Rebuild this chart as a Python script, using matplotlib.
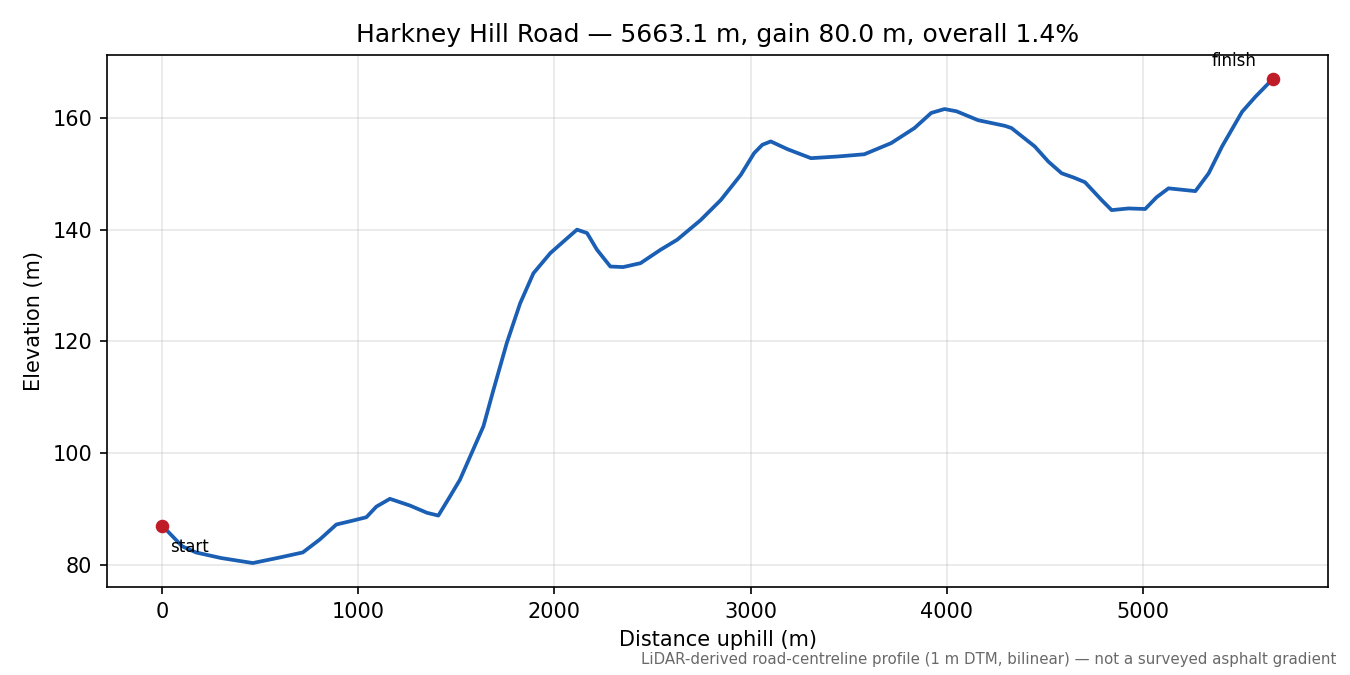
import numpy as np
import matplotlib
matplotlib.use("Agg")
import matplotlib.pyplot as plt

# profile (distance in m, elevation in m)
dist = [0, 102, 172, 300, 462, 600, 717, 803, 888, 960, 1041, 1092, 1161,
        1263, 1350, 1408, 1467, 1518, 1578, 1638, 1689, 1757, 1825, 1893,
        1979, 2050, 2115, 2166, 2217, 2285, 2350, 2439, 2541, 2626, 2745,
        2848, 2950, 3018, 3060, 3103, 3189, 3308, 3444, 3580, 3717, 3836,
        3921, 3989, 4050, 4160, 4296, 4330, 4449, 4518, 4586, 4650, 4705,
        4790, 4841, 4927, 5012, 5070, 5131, 5268, 5336, 5404, 5506, 5574,
        5663.1]
elev = [87.0, 83.3, 82.2, 81.2, 80.3, 81.3, 82.2, 84.5, 87.2, 87.8, 88.5,
        90.4, 91.8, 90.6, 89.3, 88.8, 92.2, 95.2, 100.0, 104.8, 111.3, 119.7,
        126.8, 132.2, 135.8, 138.0, 140.0, 139.4, 136.4, 133.4, 133.3, 134.0,
        136.4, 138.2, 141.7, 145.3, 149.8, 153.7, 155.2, 155.8, 154.4, 152.8,
        153.1, 153.5, 155.5, 158.2, 160.9, 161.6, 161.2, 159.6, 158.6, 158.2,
        154.9, 152.2, 150.1, 149.3, 148.5, 145.3, 143.5, 143.8, 143.7, 145.8,
        147.4, 146.9, 150.1, 154.9, 161.1, 163.8, 167.0]

name = "Harkney Hill Road"
length = dist[-1]
gain = elev[-1] - elev[0]
overall = gain / length * 100

fig, ax = plt.subplots(figsize=(9, 4.5), dpi=150)
fig.subplots_adjust(left=0.079, right=0.984, top=0.919, bottom=0.130)

ax.plot(dist, elev, color="#1a5fb4", lw=1.8)
ax.plot([dist[0], dist[-1]], [elev[0], elev[-1]], "o", color="#c01c28", ms=5.5, zorder=3)

ax.annotate("start", (dist[0], elev[0]), xytext=(4, -6), textcoords="offset points",
            ha="left", va="top", fontsize=8)
ax.annotate("finish", (dist[-1], elev[-1]), xytext=(-8, 4.5), textcoords="offset points",
            ha="right", va="bottom", fontsize=8)

ax.grid(True, alpha=0.3)
ax.set_xlabel("Distance uphill (m)")
ax.set_ylabel("Elevation (m)")
ax.set_title(f"{name} \u2014 {length:.1f} m, gain {gain:.1f} m, overall {overall:.1f}%", fontsize=12)

fig.text(0.99, 0.012, "LiDAR-derived road-centreline profile (1 m DTM, bilinear) \u2014 not a surveyed asphalt gradient",
         ha="right", va="bottom", fontsize=7.2, color="dimgray")

fig.savefig("out.png", dpi=150)
